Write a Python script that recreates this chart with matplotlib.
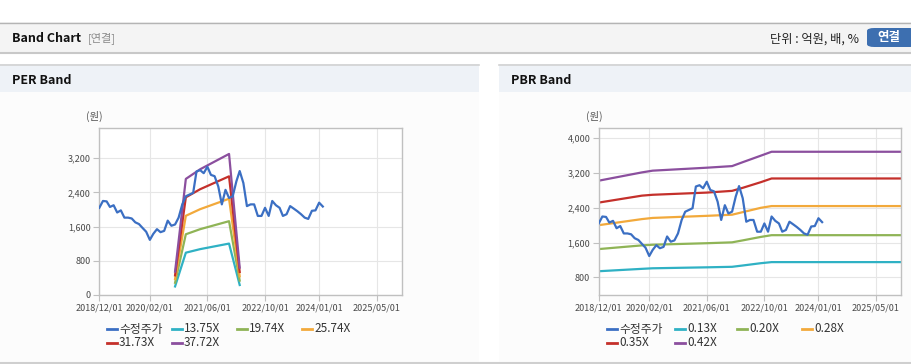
import numpy as np
import pandas as pd
import matplotlib
matplotlib.use("Agg")
import matplotlib.pyplot as plt
import matplotlib.dates as mdates
from matplotlib.patches import Rectangle, FancyBboxPatch
from matplotlib.lines import Line2D
from matplotlib.ticker import FuncFormatter

plt.rcParams['font.family'] = ['Noto Sans CJK KR', 'DejaVu Sans']

W, H = 912, 364

# ---- data -------------------------------------------------------------
price_start = "2018-12-01"
price = [2040, 2200, 2190, 2060, 2100, 1930, 1980, 1810, 1810, 1790,
         1700, 1660, 1570, 1480, 1290, 1430, 1540, 1470, 1500, 1740,
         1620, 1650, 1810, 2120, 2310, 2350, 2390, 2890, 2920, 2850,
         3000, 2810, 2780, 2540, 2120, 2460, 2270, 2310, 2660, 2900,
         2620, 2080, 2120, 2120, 1850, 1850, 2040, 1850, 2200, 2100,
         2040, 1850, 1890, 2080, 2020, 1960, 1890, 1810, 1780, 1970,
         1980, 2160, 2070]

per_dates = ["2020-09-01", "2020-12-01", "2021-04-01", "2021-12-01", "2022-03-01"]
per_labels = ["13.75X", "19.74X", "25.74X", "31.73X", "37.72X"]
per_1375 = [200, 990, 1073, 1203, 234]
per_1974 = [286, 1421, 1540, 1727, 336]
per_2574 = [373, 1853, 2008, 2252, 438]
per_3173 = [460, 2285, 2475, 2776, 539]
per_3772 = [547, 2716, 2942, 3300, 641]

pbr_dates = ["2018-12-01", "2019-12-01", "2020-03-01", "2021-06-01", "2022-01-01",
             "2022-04-01", "2022-09-01", "2022-12-01", "2025-12-01"]
pbr_labels = ["0.13X", "0.20X", "0.28X", "0.35X", "0.42X"]
pbr_013 = [940, 995, 1008, 1030, 1042, 1072, 1125, 1150, 1150]
pbr_020 = [1450, 1535, 1550, 1585, 1605, 1650, 1730, 1770, 1770]
pbr_028 = [2000, 2140, 2167, 2215, 2241, 2300, 2400, 2440, 2440]
pbr_035 = [2520, 2680, 2700, 2750, 2790, 2860, 2990, 3075, 3075]
pbr_042 = [3024, 3215, 3255, 3323, 3360, 3450, 3600, 3690, 3690]

xtick_dates = ["2018/12/01", "2020/02/01", "2021/06/01", "2022/10/01", "2024/01/01", "2025/05/01"]

colors = ["#3b6fc3", "#2fb1c4", "#8fb456", "#f2a93b", "#c4302b", "#8b4f9e"]


def box(x0, y0, x1, y1):
    return [x0 / W, 1 - y1 / H, (x1 - x0) / W, (y1 - y0) / H]


def rect(fig, x0, y0, x1, y1, color):
    fig.patches.append(Rectangle((x0 / W, 1 - y1 / H), (x1 - x0) / W, (y1 - y0) / H,
                                 transform=fig.transFigure, color=color, zorder=-5, lw=0))


def hline(fig, x0, x1, y, color, lw=1.0):
    fig.add_artist(Line2D([x0 / W, x1 / W], [1 - y / H, 1 - y / H],
                          transform=fig.transFigure, color=color, lw=lw, zorder=-4))


fig = plt.figure(figsize=(W / 100, H / 100), dpi=100)
fig.patch.set_facecolor("white")

# top header
rect(fig, 0, 22, W, 52, "#f4f4f4")
hline(fig, 0, W, 22.5, "#b4b4b4")
hline(fig, 0, W, 52.5, "#c8c8c8", 1.5)
fig.text(12 / W, 1 - 38 / H, "Band Chart", fontsize=9, fontweight="bold", va="center", color="#111111")
fig.text(88 / W, 1 - 38 / H, "[연결]", fontsize=8, va="center", color="#8a8a8a")
fig.text(859 / W, 1 - 39 / H, "단위 : 억원, 배, %", fontsize=8.8, va="center", ha="right", color="#222222")
fig.patches.append(FancyBboxPatch((867 / W, 1 - 47 / H), 50 / W, 19 / H,
                                  boxstyle="round,pad=0,rounding_size=0.008",
                                  transform=fig.transFigure, color="#3d6fb0", lw=0, zorder=-3))
fig.text(889 / W, 1 - 38 / H, "연결", fontsize=9, fontweight="bold", va="center", ha="center", color="white")

# panels
for px0, px1, title in [(0, 479, "PER Band"), (499, W, "PBR Band")]:
    rect(fig, px0, 64, px1, 92, "#eef2f7")
    rect(fig, px0, 92, px1, 362, "#fcfcfc")
    hline(fig, px0, px1, 64.5, "#d2d2d2", 1.2)
    fig.text((px0 + 12) / W, 1 - 80 / H, title, fontsize=9, fontweight="bold", va="center", color="#111111")
hline(fig, 0, W, 362.5, "#cfcfcf", 1.5)

price_dates = pd.date_range(price_start, periods=len(price), freq="MS")
xmin = mdates.date2num(pd.Timestamp("2018-12-01"))
xmax = mdates.date2num(pd.Timestamp("2025-12-01"))
tick_pos = [mdates.date2num(pd.Timestamp(t.replace("/", "-"))) for t in xtick_dates]


def style_axes(ax, ylim, yticks):
    ax.set_facecolor("white")
    ax.set_xlim(xmin, xmax)
    ax.set_ylim(*ylim)
    ax.set_xticks(tick_pos)
    ax.set_xticklabels(xtick_dates)
    ax.set_yticks(yticks)
    ax.yaxis.set_major_formatter(FuncFormatter(lambda v, _: f"{v:,.0f}"))
    ax.grid(True, color="#e6e6e6", lw=0.8)
    ax.set_axisbelow(True)
    for s in ax.spines.values():
        s.set_color("#c0c0c0")
        s.set_linewidth(1.0)
    ax.tick_params(axis="both", labelsize=6.5, colors="#c0c0c0", labelcolor="#4a4a4a",
                   length=4, width=0.8, pad=2)


def draw_legend(x_marks, labels, cols):
    rows = [329, 343]
    for i, (lab, c) in enumerate(zip(labels, cols)):
        r = i // 4
        x = x_marks[i % 4]
        y = 1 - rows[r] / H
        fig.add_artist(Line2D([x / W, (x + 10) / W], [y, y], transform=fig.transFigure, color=c, lw=2))
        fig.text((x + 12) / W, y, lab, fontsize=8.5, va="center", color="#333333")


# PER band
ax1 = fig.add_axes(box(99.3, 128.3, 402, 295))
style_axes(ax1, (0, 3900), [0, 800, 1600, 2400, 3200])
per_x = pd.to_datetime(per_dates)
for vals, c in zip([per_1375, per_1974, per_2574, per_3173, per_3772], colors[1:]):
    ax1.plot(per_x, vals, color=c, lw=1.6, zorder=2)
ax1.plot(price_dates, price, color=colors[0], lw=1.6, zorder=3)
ax1.set_xlim(xmin, xmax)
fig.text(94 / W, 1 - 116 / H, "(원)", fontsize=7.5, ha="center", va="center", color="#555555")
draw_legend([107, 172, 237, 302], ["수정주가"] + per_labels, colors)

# PBR band
ax2 = fig.add_axes(box(598.7, 128.3, 901.3, 295))
style_axes(ax2, (393, 4230), [800, 1600, 2400, 3200, 4000])
pbr_x = pd.to_datetime(pbr_dates)
for vals, c in zip([pbr_013, pbr_020, pbr_028, pbr_035, pbr_042], colors[1:]):
    ax2.plot(pbr_x, vals, color=c, lw=1.6, zorder=2)
ax2.plot(price_dates, price, color=colors[0], lw=1.6, zorder=3)
ax2.set_xlim(xmin, xmax)
fig.text(594 / W, 1 - 116 / H, "(원)", fontsize=7.5, ha="center", va="center", color="#555555")
draw_legend([607, 675, 737, 802], ["수정주가"] + pbr_labels, colors)

fig.savefig("out.png", dpi=100)
